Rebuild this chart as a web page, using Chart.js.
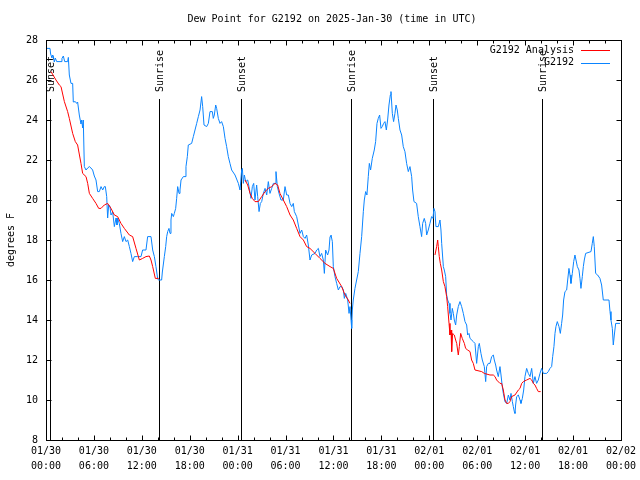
<!DOCTYPE html>
<html><head><meta charset="utf-8">
<script src="https://cdn.jsdelivr.net/npm/chart.js@4/dist/chart.umd.min.js"></script>
<style>html,body{margin:0;padding:0;background:#fff}canvas{display:block}</style>
</head><body>
<canvas id="c" width="640" height="480"></canvas>
<script>
const titleText = "Dew Point for G2192 on 2025-Jan-30 (time in UTC)";
const yAxisLabel = "degrees F";
const xTickLabels = ["01/30 00:00","01/30 06:00","01/30 12:00","01/30 18:00","01/31 00:00","01/31 06:00","01/31 12:00","01/31 18:00","02/01 00:00","02/01 06:00","02/01 12:00","02/01 18:00","02/02 00:00"];
const yTickValues = [8,10,12,14,16,18,20,22,24,26,28];
const seriesNames = ["G2192 Analysis","G2192"];
const sunEventHours = [0.53,14.2,24.47,38.23,48.5,62.15];
const sunEventLabels = ["Sunset","Sunrise","Sunset","Sunrise","Sunset","Sunrise"];

// hours since 01/30 00:00 UTC
const obsHours = [0.0,0.50,0.58,0.75,0.83,0.92,1.04,1.17,1.34,1.88,2.00,2.17,2.34,2.71,2.80,2.92,3.13,3.34,3.42,3.67,3.84,3.96,4.17,4.38,4.47,4.59,4.67,4.80,5.01,5.22,5.43,5.63,5.84,6.05,6.26,6.47,6.68,6.89,7.10,7.30,7.43,7.60,7.72,7.85,8.01,8.14,8.35,8.56,8.77,8.89,8.97,9.18,9.39,9.60,9.81,10.02,10.23,10.44,10.64,10.85,11.06,11.48,11.90,12.10,12.52,12.73,13.15,13.36,13.57,13.77,13.98,14.07,14.48,
14.57,14.82,14.99,15.11,15.24,15.40,15.53,15.65,15.74,15.95,16.07,16.24,16.36,16.49,16.66,16.78,16.91,17.20,17.41,17.53,17.70,17.82,18.24,18.45,18.66,18.87,19.08,19.29,19.49,19.62,19.79,20.12,20.33,20.54,20.83,20.95,21.08,21.25,21.37,21.58,21.79,21.99,22.21,22.42,22.62,22.83,23.04,23.25,23.67,
24.09,24.30,24.50,24.59,24.71,24.84,25.01,25.26,25.42,25.67,25.84,26.01,26.17,26.38,26.51,26.68,26.84,27.01,27.22,27.43,27.64,27.84,28.05,28.26,28.47,28.68,28.80,28.97,29.18,29.43,29.72,29.93,30.14,30.35,30.56,30.77,30.97,31.10,31.39,31.60,31.81,32.02,32.23,32.44,32.64,32.85,33.06,33.27,33.69,33.90,34.11,34.31,34.52,34.73,34.86,35.02,35.27,35.44,35.57,35.69,35.86,35.98,36.19,36.40,36.61,36.82,37.03,37.24,37.36,37.53,37.78,37.95,38.07,38.20,38.28,
38.36,38.48,38.69,38.90,39.11,39.32,39.53,39.74,39.86,40.03,40.19,40.36,40.49,40.65,40.86,41.11,41.28,41.45,41.61,41.78,41.95,42.11,42.28,42.45,42.62,42.78,42.95,43.12,43.20,43.37,43.53,43.70,43.83,43.99,44.12,44.33,44.54,44.74,44.95,45.16,45.37,45.58,45.79,45.91,46.08,46.41,46.62,46.83,47.04,47.17,47.37,47.54,47.67,47.87,48.08,48.29,48.46,48.58,48.71,48.83,
49.13,49.34,49.46,49.55,49.76,49.88,50.05,50.17,50.30,50.47,50.59,50.72,50.88,51.01,51.13,51.30,51.43,51.63,51.84,52.05,52.26,52.47,52.68,52.80,52.97,53.10,53.51,53.72,53.93,54.14,54.26,54.47,54.64,54.89,55.06,55.18,55.39,55.60,55.81,56.02,56.14,56.31,56.43,56.64,56.85,56.98,57.14,57.27,57.48,57.69,57.90,58.10,58.23,58.40,58.52,58.65,58.73,58.81,58.94,59.15,59.36,59.48,59.65,59.82,59.98,60.19,60.40,60.61,60.82,61.03,61.23,61.44,61.65,61.86,62.07,62.28,62.70,62.90,63.11,63.32,63.45,63.61,63.74,63.86,64.03,64.24,64.41,64.57,64.70,64.82,64.99,65.20,65.33,65.49,65.62,65.74,65.91,66.08,66.24,66.37,66.54,66.74,66.87,66.99,67.16,67.29,67.41,67.58,68.25,68.41,68.54,68.66,68.83,69.08,69.37,69.58,69.79,70.50,70.63,70.75,70.92,71.04,71.17,71.34,71.88];
const obsValues = [27.58,27.58,27.3,27.1,27.25,27.2,26.9,27.1,26.92,26.92,27.08,27.2,26.92,26.92,27.13,26.25,25.83,25.83,24.9,24.92,24.83,24.9,24.25,23.8,24.0,23.6,24.0,21.67,21.5,21.6,21.67,21.6,21.5,21.2,21.0,20.42,20.42,20.67,20.5,20.67,20.67,20.17,19.1,19.75,19.67,19.25,19.4,18.67,19.1,18.75,19.08,18.83,18.33,17.92,18.17,17.92,18.0,17.67,17.33,16.92,17.17,17.17,17.17,17.5,17.5,18.17,18.17,17.5,17.17,16.67,16.08,16.0,16.0,
16.4,17.17,17.67,18.17,18.42,18.58,18.33,19.0,19.33,19.17,19.33,19.58,20.08,20.67,20.33,20.5,21.0,21.17,21.17,21.67,22.17,22.75,22.83,23.17,23.5,23.83,24.17,24.5,25.17,24.67,23.75,23.67,23.83,24.42,24.42,24.08,24.25,24.75,24.58,24.08,23.83,23.92,23.67,23.08,22.67,22.17,21.83,21.5,21.25,
20.83,20.5,21.5,21.58,20.83,21.25,20.92,21.0,20.67,20.08,20.67,20.83,20.0,20.75,20.17,19.42,19.83,19.92,20.33,20.58,20.25,20.92,20.33,20.58,20.83,20.83,21.42,20.67,20.33,20.0,20.0,20.67,20.25,20.25,19.83,19.67,19.83,19.42,19.17,18.75,18.33,18.5,18.17,18.08,18.25,17.75,17.0,17.25,17.33,17.5,17.58,17.17,17.33,17.0,16.33,17.5,17.25,17.5,18.17,18.25,17.92,16.67,16.17,15.83,15.5,15.67,15.67,15.5,15.08,15.33,15.0,14.33,14.67,14.0,13.58,
14.5,15.0,15.58,16.0,16.42,17.33,18.17,19.42,20.0,20.42,20.25,21.17,21.83,21.5,22.08,22.5,22.92,23.83,24.08,24.25,23.58,23.67,23.83,23.92,23.5,24.0,24.75,25.25,25.42,24.33,23.92,24.33,24.75,24.5,24.08,23.5,23.25,22.67,22.42,21.83,21.42,21.67,21.17,20.5,19.92,19.83,19.17,18.67,18.17,18.83,19.08,18.83,18.25,18.5,18.83,19.17,19.08,19.58,19.42,18.67,
18.67,19.0,18.5,17.83,16.67,16.5,16.17,15.25,15.0,14.83,14.33,14.0,14.58,14.33,14.0,13.75,14.25,14.67,14.92,14.67,14.33,13.92,13.75,13.25,13.33,13.08,12.92,12.83,11.83,12.67,12.83,12.33,12.0,11.67,10.92,11.67,11.83,11.83,12.17,12.25,12.0,11.75,11.5,11.17,11.67,11.25,10.67,10.33,9.92,9.83,10.25,10.0,10.33,9.92,9.67,9.42,9.33,9.75,10.17,10.25,10.0,9.83,10.08,10.5,11.17,11.58,11.33,11.17,11.58,10.83,11.17,10.83,11.0,11.33,11.58,11.33,11.33,11.42,11.58,11.67,12.17,12.67,13.33,13.67,13.92,13.67,13.33,13.83,14.25,15.0,15.42,15.5,16.0,16.58,16.25,15.83,16.33,16.92,17.25,17.0,16.67,16.5,16.08,15.58,16.17,16.67,17.0,17.33,17.42,17.83,18.17,17.67,16.33,16.25,16.08,15.75,15.0,15.0,14.42,14.0,13.58,12.75,13.25,13.83,13.83];

// analysis: three segments separated by null
const anaHours = [0.63,1.25,1.67,1.88,2.30,2.71,2.92,3.34,3.67,3.96,4.38,4.59,5.01,5.22,5.43,5.84,6.26,6.60,6.89,7.30,7.72,8.14,8.56,8.97,9.39,9.81,10.44,10.85,11.27,11.69,12.10,12.52,12.94,13.15,13.36,13.69,14.11,
19.0,
24.92,25.26,25.55,25.84,26.17,26.59,27.01,27.43,27.84,28.26,28.68,29.01,29.30,29.72,30.14,30.56,30.97,31.39,31.81,32.23,32.64,33.06,33.69,34.31,34.94,35.57,35.98,36.40,37.03,37.44,37.86,38.07,
43.0,
48.71,48.92,49.05,49.13,49.25,49.38,49.55,49.76,49.96,50.17,50.30,50.47,50.59,50.72,50.80,50.92,51.13,51.30,51.43,51.63,51.76,51.93,52.13,52.39,52.55,52.80,53.10,53.30,53.51,53.72,54.56,54.89,55.60,56.02,56.23,56.43,56.85,57.06,57.27,57.48,57.69,57.90,58.10,58.31,58.73,59.15,59.36,59.57,59.78,60.19,60.61,60.82,61.03,61.23,61.44,61.65,61.94];
const anaValues = [26.42,26.0,25.75,25.67,24.92,24.42,24.08,23.33,22.92,22.75,21.83,21.33,21.17,20.83,20.33,20.08,19.83,19.58,19.58,19.75,19.83,19.58,19.25,19.17,18.83,18.58,18.25,18.17,17.58,17.0,17.08,17.17,17.2,17.0,16.67,16.08,16.08,
null,
21.0,20.75,20.33,20.08,19.92,19.92,20.17,20.42,20.58,20.67,20.83,20.75,20.33,20.0,19.67,19.25,19.0,18.58,18.17,18.0,17.67,17.58,17.33,17.08,16.83,16.67,16.58,16.08,15.67,15.25,15.0,14.83,
null,
17.25,17.67,18.0,17.67,17.17,16.83,16.5,15.92,15.67,15.17,14.67,13.83,13.25,13.5,12.42,13.33,13.25,13.0,12.83,12.25,12.67,13.33,13.08,12.83,12.58,12.5,12.42,12.0,11.83,11.5,11.42,11.33,11.25,11.25,11.17,11.0,10.83,10.83,10.5,10.0,9.83,9.83,9.92,10.17,10.25,10.5,10.58,10.83,10.92,11.0,11.08,11.0,10.83,10.75,10.58,10.42,10.42];

const FONT = '10px "DejaVu Sans Mono", "Liberation Mono", monospace';
const toPts = (xs, ys) => xs.map((x, i) => ({x: x, y: ys[i]}));

const frame = {
  id: 'frame',
  beforeDatasetsDraw(chart) {
    const ctx = chart.ctx, xs = chart.scales.x, a = chart.chartArea;
    ctx.save();
    ctx.strokeStyle = '#000'; ctx.lineWidth = 1;
    ctx.fillStyle = '#000'; ctx.font = FONT;
    sunEventHours.forEach((h, i) => {
      const px = Math.round(xs.getPixelForValue(h)) + 0.5;
      ctx.beginPath(); ctx.moveTo(px, 99); ctx.lineTo(px, a.bottom); ctx.stroke();
      ctx.save();
      ctx.translate(px + 1, 92);
      ctx.rotate(-Math.PI / 2);
      ctx.textAlign = 'left'; ctx.textBaseline = 'middle';
      ctx.fillText(sunEventLabels[i], 0, 0);
      ctx.restore();
    });
    ctx.restore();
  },
  afterDraw(chart) {
    const ctx = chart.ctx, xs = chart.scales.x, ys = chart.scales.y, a = chart.chartArea;
    const L = Math.round(a.left) + 0.5, R = Math.round(a.right) + 0.5;
    const T = Math.round(a.top) + 0.5, B = Math.round(a.bottom) + 0.5;
    ctx.save();
    ctx.strokeStyle = '#000'; ctx.lineWidth = 1;
    ctx.strokeRect(L, T, R - L, B - T);
    ctx.beginPath();
    for (let h = 0; h <= 72; h += 2) {
      const px = Math.round(xs.getPixelForValue(h)) + 0.5;
      const len = (h % 6 === 0) ? 5 : 3;
      ctx.moveTo(px, B); ctx.lineTo(px, B - len);
      ctx.moveTo(px, T); ctx.lineTo(px, T + len);
    }
    yTickValues.forEach(v => {
      const py = Math.round(ys.getPixelForValue(v)) + 0.5;
      ctx.moveTo(L, py); ctx.lineTo(L + 5, py);
      ctx.moveTo(R, py); ctx.lineTo(R - 5, py);
    });
    ctx.stroke();
    ctx.fillStyle = '#000'; ctx.font = FONT;
    ctx.textAlign = 'center'; ctx.textBaseline = 'middle';
    ctx.fillText(titleText, 332, 19);
    ctx.save();
    ctx.translate(11, 240); ctx.rotate(-Math.PI / 2);
    ctx.fillText(yAxisLabel, 0, 0);
    ctx.restore();
    chart.data.datasets.forEach((ds, i) => {
      const y = 50 + i * 12.5;
      ctx.textAlign = 'right'; ctx.fillStyle = '#000';
      ctx.fillText(ds.label, 574, y);
      ctx.strokeStyle = ds.borderColor;
      ctx.beginPath(); ctx.moveTo(581, Math.round(y) + 0.5); ctx.lineTo(610, Math.round(y) + 0.5); ctx.stroke();
    });
    ctx.restore();
  }
};

new Chart(document.getElementById('c'), {
  type: 'line',
  data: {
    datasets: [
      {label: seriesNames[0], data: toPts(anaHours, anaValues), borderColor: '#ff0000', borderWidth: 1, pointRadius: 0, tension: 0, spanGaps: false, fill: false},
      {label: seriesNames[1], data: toPts(obsHours, obsValues), borderColor: '#0a84ff', borderWidth: 1, pointRadius: 0, tension: 0, fill: false}
    ]
  },
  options: {
    responsive: false, animation: false, devicePixelRatio: 1,
    layout: {padding: {top: 40, right: 19, left: 0, bottom: 0}},
    plugins: {legend: {display: false}, tooltip: {enabled: false}, title: {display: false}},
    scales: {
      x: {
        type: 'linear', min: 0, max: 72,
        grid: {display: false, drawTicks: false}, border: {display: false},
        afterFit: s => { s.height = 40; },
        ticks: {
          stepSize: 6, autoSkip: false, maxRotation: 0, padding: 4,
          color: '#000', font: {family: '"DejaVu Sans Mono"', size: 10, lineHeight: 1.5},
          callback: v => { const t = xTickLabels[Math.round(v / 6)]; return t ? t.split(' ') : ''; }
        }
      },
      y: {
        type: 'linear', min: 8, max: 28,
        grid: {display: false, drawTicks: false}, border: {display: false},
        afterFit: s => { s.width = 46; },
        ticks: {stepSize: 2, padding: 8, color: '#000', font: {family: '"DejaVu Sans Mono"', size: 10}}
      }
    }
  },
  plugins: [frame]
});
</script>
</body></html>
